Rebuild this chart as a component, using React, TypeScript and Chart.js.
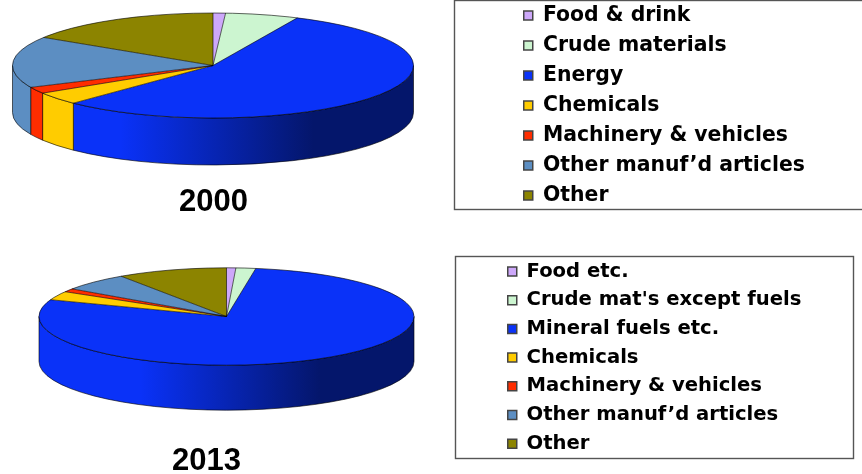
import React, { useEffect, useRef } from "react";
import { Chart, registerables } from "chart.js";

Chart.register(...registerables);

const colors = ["#CDA8FA", "#CCF5D0", "#0A32F8", "#FFCC00", "#FF2D00", "#5C8EC2", "#8C8400"];
const labels2000 = ["Food & drink", "Crude materials", "Energy", "Chemicals", "Machinery & vehicles", "Other manuf\u2019d articles", "Other"];
const values2000 = [1.0, 5.9, 55.3, 3.9, 2.0, 15.8, 16.0];
const labels2013 = ["Food etc.", "Crude mat's except fuels", "Mineral fuels etc.", "Chemicals", "Machinery & vehicles", "Other manuf\u2019d articles", "Other"];
const values2013 = [0.8, 1.7, 78.1, 2.9, 1.1, 5.9, 9.5];

type Panel = {
  title: string; labels: string[]; values: number[];
  top: number; height: number;
  cx: number; cy: number; rx: number; ry: number; depth: number;
  titleX: number; titleY: number;
  box: [number, number, number, number];
  legendX: number; legendY: number; fontSize: number; rowGap: number;
};

const panels: Panel[] = [
  {
    title: "2000", labels: labels2000, values: values2000, top: 0, height: 237,
    cx: 213, cy: 65.5, rx: 200.5, ry: 52.5, depth: 47,
    titleX: 213.5, titleY: 202,
    box: [454.5, 0.5, 420, 209],
    legendX: 523.75, legendY: 15.5, fontSize: 20.4, rowGap: 9.6,
  },
  {
    title: "2013", labels: labels2013, values: values2013, top: 237, height: 237,
    cx: 226.5, cy: 79.5, rx: 187.5, ry: 48.7, depth: 45,
    titleX: 206.5, titleY: 224.5,
    box: [455.5, 19.5, 398, 202],
    legendX: 507.75, legendY: 34.5, fontSize: 19.6, rowGap: 9.1,
  },
];

function darken(hex: string, k: number) {
  const n = parseInt(hex.slice(1), 16);
  const c = [(n >> 16) & 255, (n >> 8) & 255, n & 255].map((v) => Math.round(v * k));
  return `rgb(${c[0]},${c[1]},${c[2]})`;
}

function pie3d(p: Panel) {
  const outline = "rgba(0,0,0,0.6)";
  return {
    id: "pie3d",
    afterLayout(chart: any) {
      const t = chart.titleBlock;
      t.left = p.titleX - 100;
      t.right = p.titleX + 100;
      t.top = p.titleY - 31 / 2;
      t.bottom = t.top + 31;
      const l = chart.legend;
      const w = l.width;
      l.left = p.legendX - p.rowGap;
      l.right = l.left + w;
      l.top = p.legendY - p.rowGap - p.fontSize / 2;
      l.bottom = l.top + 240;
    },
    beforeDraw(chart: any) {
      const ctx = chart.ctx;
      ctx.save();
      ctx.strokeStyle = "#555";
      ctx.lineWidth = 1.4;
      ctx.strokeRect(...p.box);
      ctx.restore();
    },
    beforeDatasetsDraw(chart: any) {
      const ctx = chart.ctx;
      const arcs = chart.getDatasetMeta(0).data;
      const { cx, cy, rx, ry, depth } = p;
      ctx.save();
      arcs.forEach((arc: any, i: number) => {
        const a = Math.max(arc.startAngle, 0);
        const b = Math.min(arc.endAngle, Math.PI);
        if (b <= a) return;
        const g = ctx.createLinearGradient(cx - rx, 0, cx + rx, 0);
        g.addColorStop(0, colors[i]);
        g.addColorStop(0.27, colors[i]);
        g.addColorStop(0.75, darken(colors[i], 0.43));
        g.addColorStop(1, darken(colors[i], 0.43));
        ctx.beginPath();
        ctx.ellipse(cx, cy, rx, ry, 0, a, b);
        ctx.ellipse(cx, cy + depth, rx, ry, 0, b, a, true);
        ctx.closePath();
        ctx.fillStyle = g;
        ctx.fill();
        ctx.strokeStyle = outline;
        ctx.lineWidth = 1;
        ctx.stroke();
      });
      ctx.restore();
    },
    beforeDatasetDraw(chart: any) {
      const ctx = chart.ctx;
      const arc = chart.getDatasetMeta(0).data[0];
      ctx.save();
      ctx.translate(p.cx, p.cy);
      ctx.scale(p.rx / arc.outerRadius, p.ry / arc.outerRadius);
      ctx.translate(-arc.x, -arc.y);
    },
    afterDatasetDraw(chart: any) {
      chart.ctx.restore();
    },
    afterDatasetsDraw(chart: any) {
      const ctx = chart.ctx;
      const arcs = chart.getDatasetMeta(0).data;
      const { cx, cy, rx, ry } = p;
      ctx.save();
      ctx.strokeStyle = outline;
      ctx.lineWidth = 1;
      arcs.forEach((arc: any) => {
        ctx.beginPath();
        ctx.moveTo(cx, cy);
        ctx.lineTo(cx + rx * Math.cos(arc.startAngle), cy + ry * Math.sin(arc.startAngle));
        ctx.stroke();
      });
      ctx.beginPath();
      ctx.ellipse(cx, cy, rx, ry, 0, 0, Math.PI * 2);
      ctx.stroke();
      ctx.restore();
    },
  };
}

function PieCanvas({ panel }: { panel: Panel }) {
  const ref = useRef<HTMLCanvasElement>(null);
  useEffect(() => {
    const chart = new Chart(ref.current as HTMLCanvasElement, {
      type: "pie",
      data: {
        labels: panel.labels,
        datasets: [{ data: panel.values, backgroundColor: colors, borderWidth: 0, clip: false } as any],
      },
      options: {
        responsive: false,
        animation: false,
        plugins: {
          title: {
            display: true,
            text: panel.title,
            color: "#000",
            padding: 0,
            font: { family: "'Liberation Sans'", weight: "bold", size: 31, lineHeight: 1 },
          },
          legend: {
            position: "right",
            align: "start",
            labels: {
              boxWidth: 9,
              boxHeight: 9,
              padding: panel.rowGap,
              color: "#000",
              font: { family: "'DejaVu Sans'", weight: "bold", size: panel.fontSize },
              generateLabels: (c: any) =>
                c.data.labels.map((text: string, i: number) => ({
                  text,
                  fillStyle: colors[i],
                  strokeStyle: "#444",
                  lineWidth: 1.5,
                  fontColor: "#000",
                  index: i,
                })),
            },
          },
          tooltip: { enabled: false },
        },
      } as any,
      plugins: [pie3d(panel)],
    });
    return () => chart.destroy();
  }, [panel]);
  return (
    <canvas
      ref={ref}
      width={862}
      height={panel.height}
      style={{ position: "absolute", left: 0, top: panel.top, width: 862, height: panel.height, display: "block" }}
    />
  );
}

export default function App() {
  return (
    <div style={{ position: "absolute", left: 0, top: 0, width: 862, height: 474, overflow: "hidden", background: "#fff" }}>
      {panels.map((p) => (
        <PieCanvas key={p.title} panel={p} />
      ))}
    </div>
  );
}
